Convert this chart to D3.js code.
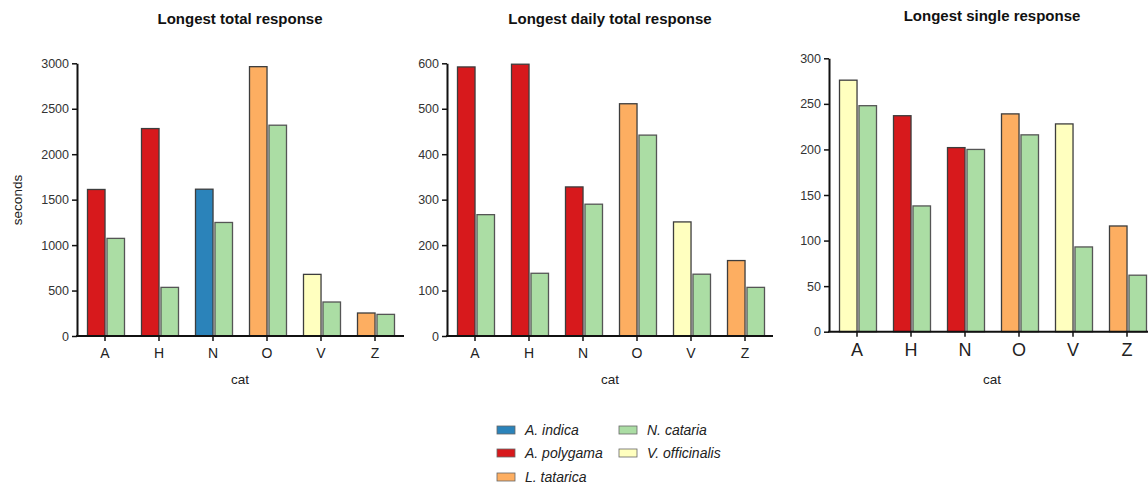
<!DOCTYPE html>
<html><head><meta charset="utf-8">
<script src="https://cdn.jsdelivr.net/npm/d3@7"></script>
<style>
body{margin:0;background:#fff;}
svg{display:block;font-family:"Liberation Sans",Arial,sans-serif;}
</style></head>
<body>
<svg id="chart" width="1148" height="488"></svg>
<script>
const categories = ["A","H","N","O","V","Z"];
const speciesNames = ["A. indica","A. polygama","L. tatarica","N. cataria","V. officinalis"];
const speciesColors = ["#2b83ba","#d7191c","#fdae61","#abdda4","#ffffbf"];

const titles = ["Longest total response","Longest daily total response","Longest single response"];

// first bar species per category, per panel
const totalSpecies  = ["A. polygama","A. polygama","A. indica","L. tatarica","V. officinalis","L. tatarica"];
const totalValues   = [1612, 2282, 1615, 2963, 678, 253];
const totalCataria  = [1074, 535, 1249, 2319, 374, 238];

const dailySpecies  = ["A. polygama","A. polygama","A. polygama","L. tatarica","V. officinalis","L. tatarica"];
const dailyValues   = [592, 598, 328, 511, 251, 166];
const dailyCataria  = [267, 138, 290, 442, 136, 107];

const singleSpecies = ["V. officinalis","A. polygama","A. polygama","L. tatarica","V. officinalis","L. tatarica"];
const singleValues  = [276, 237, 202, 239, 228, 116];
const singleCataria = [248, 138, 200, 216, 93, 62];

const yTicks1 = [0,500,1000,1500,2000,2500,3000];
const yTicks2 = [0,100,200,300,400,500,600];
const yTicks3 = [0,50,100,150,200,250,300];

const color = d3.scaleOrdinal().domain(speciesNames).range(speciesColors);
const svg = d3.select("#chart");

const panels = [
  {title:titles[0], sp:totalSpecies, v:totalValues, c:totalCataria, ticks:yTicks1, max:3000,
   ax:77, x0:78, x1:402, axEnd:404, y0:336, yTop:63.3, titleY:23.5, xFont:14, ylabel:"seconds"},
  {title:titles[1], sp:dailySpecies, v:dailyValues, c:dailyCataria, ticks:yTicks2, max:600,
   ax:447, x0:448, x1:772, axEnd:773, y0:336, yTop:63.3, titleY:23.5, xFont:14},
  {title:titles[2], sp:singleSpecies, v:singleValues, c:singleCataria, ticks:yTicks3, max:300,
   ax:829, x0:830, x1:1154, axEnd:1148, y0:331.7, yTop:58.3, titleY:20.5, xFont:18}
];

panels.forEach(p => {
  const g = svg.append("g");
  const x = d3.scaleBand().domain(categories).range([p.x0, p.x1]);
  const xi = d3.scaleBand().domain(["s","c"]).range([-17.5, 19.5]).paddingInner(0.1);
  const y = d3.scaleLinear().domain([0, p.max]).range([p.y0, p.yTop]);

  const rows = categories.map((cat,i)=>({cat, sp:p.sp[i], v:p.v[i], c:p.c[i]}));
  const grp = g.selectAll("g.cat").data(rows).join("g")
    .attr("transform", d => `translate(${x(d.cat)+x.bandwidth()/2},0)`);
  grp.append("rect")
    .attr("x", xi("s")).attr("width", xi.bandwidth())
    .attr("y", d => y(d.v)).attr("height", d => y(0)-y(d.v))
    .attr("fill", d => color(d.sp)).attr("stroke","#3d3d3d").attr("stroke-width",1.3);
  grp.append("rect")
    .attr("x", xi("c")).attr("width", xi.bandwidth())
    .attr("y", d => y(d.c)).attr("height", d => y(0)-y(d.c))
    .attr("fill", color("N. cataria")).attr("stroke","#555").attr("stroke-width",1.3);

  // y axis
  const ya = d3.axisLeft(y).tickValues(p.ticks).tickFormat(d3.format("d"))
    .tickSize(5).tickSizeOuter(0).tickPadding(3);
  const yg = g.append("g").attr("transform",`translate(${p.ax},0)`).call(ya);
  yg.select(".domain").attr("stroke","#111").attr("stroke-width",2);
  yg.selectAll(".tick line").attr("stroke","#111").attr("stroke-width",1.5);
  yg.selectAll(".tick text").attr("font-size",12.5).attr("fill","#333")
    .attr("font-family","Liberation Sans, Arial, sans-serif");

  // x axis
  const xa = d3.axisBottom(x).tickSize(5).tickSizeOuter(0).tickPadding(7);
  const xg = g.append("g").attr("transform",`translate(0,${p.y0})`).call(xa);
  xg.select(".domain").remove();
  xg.append("line").attr("x1",p.ax-1).attr("x2",p.axEnd).attr("y1",0).attr("y2",0)
    .attr("stroke","#111").attr("stroke-width",2);
  xg.selectAll(".tick line").attr("stroke","#111").attr("stroke-width",1.5);
  xg.selectAll(".tick text").attr("font-size",p.xFont).attr("fill","#222")
    .attr("font-family","Liberation Sans, Arial, sans-serif");

  // titles
  const cx = (x(categories[0]) + x(categories[5]) + x.bandwidth())/2;
  g.append("text").attr("x", cx).attr("y", p.titleY).attr("text-anchor","middle")
    .attr("font-size",15).attr("font-weight","bold").attr("fill","#111").text(p.title);
  g.append("text").attr("x", cx).attr("y", 384).attr("text-anchor","middle")
    .attr("font-size",13.5).attr("fill","#222").text("cat");
  if (p.ylabel) {
    g.append("text").attr("transform","translate(22,200) rotate(-90)").attr("text-anchor","middle")
      .attr("font-size",13.5).attr("fill","#222").text(p.ylabel);
  }
});

// legend
const legendPos = [[497,430],[497,453],[497,477],[619,430],[619,453]];
const lg = svg.append("g");
speciesNames.forEach((s,i)=>{
  const [lx,ly] = legendPos[i];
  lg.append("rect").attr("x",lx).attr("y",ly-4).attr("width",18).attr("height",8)
    .attr("fill",color(s)).attr("stroke","#666").attr("stroke-width",0.8);
  lg.append("text").attr("x",lx+28).attr("y",ly+5).attr("font-size",14)
    .attr("font-style","italic").attr("fill","#222").text(s);
});
</script>
</body></html>
